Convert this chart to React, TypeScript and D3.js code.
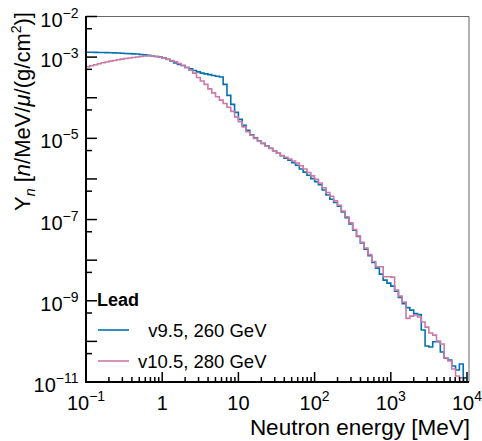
import React from "react";
import * as d3 from "d3";

// Histogram binning: 100 log-uniform bins between 0.1 MeV and 10^4 MeV
const X_MIN = 0.1;
const X_MAX = 1e4;
const N_BINS = 100;

// v9.5, 260 GeV  (n/MeV/mu/(g/cm^2)) per bin
const V95_VALUES = [
  1.32e-3, 1.32e-3, 1.31e-3, 1.30e-3, 1.30e-3, 1.29e-3, 1.28e-3, 1.27e-3, 1.26e-3, 1.245e-3,
  1.23e-3, 1.216e-3, 1.20e-3, 1.19e-3, 1.164e-3, 1.138e-3, 1.106e-3, 1.069e-3, 1.038e-3, 1.01e-3,
  9.55e-4, 8.87e-4, 8.05e-4, 7.19e-4, 6.61e-4, 6.24e-4, 5.57e-4, 5.12e-4, 4.70e-4, 4.32e-4,
  4.04e-4, 3.86e-4, 3.71e-4, 3.54e-4, 3.39e-4, 3.25e-4, 2.13e-4, 1.14e-4, 6.86e-5, 4.36e-5,
  2.93e-5, 2.09e-5, 1.57e-5, 1.22e-5, 1.03e-5, 8.69e-6, 7.54e-6, 6.55e-6, 5.68e-6, 4.93e-6,
  4.28e-6, 3.72e-6, 3.22e-6, 2.88e-6, 2.50e-6, 2.17e-6, 1.76e-6, 1.47e-6, 1.23e-6, 1.02e-6,
  8.57e-7, 7.19e-7, 5.36e-7, 4.02e-7, 3.16e-7, 2.62e-7, 2.13e-7, 1.53e-7, 1.11e-7, 7.82e-8,
  5.47e-8, 3.83e-8, 2.64e-8, 1.85e-8, 1.29e-8, 8.73e-9, 6.37e-9, 4.53e-9, 3.23e-9, 2.72e-9,
  2.30e-9, 1.73e-9, 1.20e-9, 8.53e-10, 6.80e-10, 5.90e-10, 4.84e-10, 4.57e-10, 1.90e-10, 7.69e-11,
  7.26e-11, 9.82e-11, 9.82e-11, 5.47e-11, 3.83e-11, 3.48e-11, 2.48e-11, 1.98e-11, 2.77e-11, 1.26e-11,
];

// v10.5, 280 GeV
const V105_VALUES = [
  5.83e-4, 6.14e-4, 6.46e-4, 6.87e-4, 7.28e-4, 7.60e-4, 7.96e-4, 8.28e-4, 8.61e-4, 8.91e-4,
  9.22e-4, 9.48e-4, 9.75e-4, 1.004e-3, 1.038e-3, 1.062e-3, 1.08e-3, 1.074e-3, 1.038e-3, 9.93e-4,
  9.44e-4, 8.77e-4, 8.19e-4, 7.66e-4, 6.98e-4, 6.24e-4, 5.57e-4, 4.75e-4, 4.04e-4, 3.16e-4,
  2.59e-4, 2.13e-4, 1.65e-4, 1.32e-4, 1.06e-4, 8.71e-5, 7.18e-5, 5.85e-5, 4.61e-5, 3.38e-5,
  2.55e-5, 1.92e-5, 1.45e-5, 1.19e-5, 1.00e-5, 8.59e-6, 7.41e-6, 6.47e-6, 5.61e-6, 4.90e-6,
  4.28e-6, 3.78e-6, 3.41e-6, 3.10e-6, 2.77e-6, 2.47e-6, 2.12e-6, 1.75e-6, 1.44e-6, 1.19e-6,
  9.82e-7, 7.93e-7, 6.07e-7, 4.62e-7, 3.75e-7, 2.90e-7, 2.25e-7, 1.63e-7, 1.17e-7, 8.28e-8,
  5.69e-8, 3.96e-8, 2.77e-8, 1.98e-8, 1.37e-8, 9.31e-9, 6.86e-9, 6.86e-9, 3.89e-9, 3.89e-9,
  3.82e-9, 1.83e-9, 1.30e-9, 9.29e-10, 3.69e-10, 4.20e-10, 4.45e-10, 3.97e-10, 2.99e-10, 2.25e-10,
  1.61e-10, 1.43e-10, 1.02e-10, 8.61e-11, 3.90e-11, 3.29e-11, 2.09e-11, 1.41e-11, 1.26e-11, 9.5e-12,
];

const SERIES_NAMES = ["v9.5, 260 GeV", "v10.5, 280 GeV"];
const SERIES_COLORS = ["#0072B2", "#CC79A7"];
const LEGEND_TITLE = "Lead";

const X_TICK_EXPONENTS = [-1, 0, 1, 2, 3, 4];
const Y_LABEL_EXPONENTS = [-2, -3, -5, -7, -9, -11];
const Y_DECADES = [-11, -10, -9, -8, -7, -6, -5, -4, -3, -2];

const W = 482;
const H = 441;
const L = 86;
const R = 467;
const FRAME_R = 469;
const T = 16.5;
const B = 382;

const FONT = "'Liberation Sans', Arial, Helvetica, sans-serif";

export default function App() {
  const x = d3.scaleLog().domain([X_MIN, X_MAX]).range([L, R]);
  const y = d3.scaleLog().domain([1e-11, 1e-2]).range([B, T]);

  const edges = d3.range(N_BINS + 1).map((i) =>
    Math.pow(10, Math.log10(X_MIN) + (i * (Math.log10(X_MAX) - Math.log10(X_MIN))) / N_BINS)
  );

  const stepPath = (vals: number[]) => {
    const pts: [number, number][] = [];
    vals.forEach((v, i) => {
      pts.push([edges[i], v]);
      pts.push([edges[i + 1], v]);
    });
    return d3
      .line<[number, number]>()
      .x((d) => x(d[0]))
      .y((d) => y(Math.max(d[1], 1e-13)))(pts) as string;
  };

  const xMinor: number[] = [];
  for (let e = -1; e < 4; e++) for (let m = 2; m <= 9; m++) xMinor.push(m * Math.pow(10, e));
  const yMinor = Y_DECADES.slice(0, -1).map((e) => 5 * Math.pow(10, e));

  const supLabel = (e: number) => (e === 0 ? "1" : e === 1 ? "10" : null);
  const expStr = (e: number) => (e < 0 ? "\u2212" + Math.abs(e) : String(e));

  return (
    <svg
      width={W}
      height={H}
      style={{ position: "absolute", left: 0, top: 0, background: "#fff" }}
      fontFamily={FONT}
    >
      <defs>
        <clipPath id="plotclip">
          <rect x={L} y={T} width={FRAME_R - L} height={B - T} />
        </clipPath>
      </defs>
      <rect x={0} y={0} width={W} height={H} fill="#fff" />

      {/* frame top/right */}
      <line x1={L} x2={FRAME_R} y1={T} y2={T} stroke="#666" strokeWidth={1} />
      <line x1={FRAME_R} x2={FRAME_R} y1={T} y2={B} stroke="#666" strokeWidth={1} />

      {/* histograms */}
      <g clipPath="url(#plotclip)" fill="none" strokeLinejoin="miter">
        <path d={stepPath(V95_VALUES)} stroke={SERIES_COLORS[0]} strokeWidth={1.6} />
        <path d={stepPath(V105_VALUES)} stroke={SERIES_COLORS[1]} strokeWidth={1.6} />
      </g>

      {/* y axis */}
      <line x1={L} x2={L} y1={T - 0.5} y2={B + 1} stroke="#000" strokeWidth={2} />
      {Y_DECADES.map((e) => (
        <line key={"yd" + e} x1={L} x2={L + 11} y1={y(Math.pow(10, e))} y2={y(Math.pow(10, e))} stroke="#000" strokeWidth={1.5} />
      ))}
      {yMinor.map((v, i) => (
        <line key={"ym" + i} x1={L} x2={L + 6} y1={y(v)} y2={y(v)} stroke="#000" strokeWidth={1.5} />
      ))}
      {Y_LABEL_EXPONENTS.map((e) => (
        <text key={"yl" + e} x={78.5} y={y(Math.pow(10, e)) + 10} textAnchor="end" fontSize={20} fill="#000">
          <tspan>10</tspan>
          <tspan dy={-9} fontSize={14}>{expStr(e)}</tspan>
        </text>
      ))}

      {/* x axis */}
      <line x1={L - 1} x2={FRAME_R} y1={B} y2={B} stroke="#000" strokeWidth={2} />
      {X_TICK_EXPONENTS.map((e) => (
        <line key={"xd" + e} x1={x(Math.pow(10, e))} x2={x(Math.pow(10, e))} y1={B} y2={B - 10} stroke="#000" strokeWidth={1.5} />
      ))}
      {xMinor.map((v, i) => (
        <line key={"xm" + i} x1={x(v)} x2={x(v)} y1={B} y2={B - 5} stroke="#000" strokeWidth={1.5} />
      ))}
      {X_TICK_EXPONENTS.map((e) => {
        const s = supLabel(e);
        return (
          <text key={"xl" + e} x={x(Math.pow(10, e))} y={410} textAnchor="middle" fontSize={20} fill="#000">
            {s !== null ? (
              s
            ) : (
              <>
                <tspan>10</tspan>
                <tspan dy={-9} fontSize={14}>{expStr(e)}</tspan>
              </>
            )}
          </text>
        );
      })}

      {/* axis titles */}
      <text x={FRAME_R + 1} y={435} textAnchor="end" fontSize={22.5} fill="#000">
        Neutron energy [MeV]
      </text>
      <text transform="translate(30,12) rotate(-90)" textAnchor="end" fontSize={22} fill="#000">
        <tspan>Y</tspan>
        <tspan dy={5} fontSize={14} fontStyle="italic">n</tspan>
        <tspan dy={-5}> [</tspan>
        <tspan fontStyle="italic">n</tspan>
        <tspan>/MeV/</tspan>
        <tspan fontStyle="italic">{"\u03bc"}</tspan>
        <tspan>/(g/cm</tspan>
        <tspan dy={-9} fontSize={14}>2</tspan>
        <tspan dy={9}>)]</tspan>
      </text>

      {/* legend */}
      <text x={97} y={306} fontSize={18} fontWeight="bold" fill="#000">
        {LEGEND_TITLE}
      </text>
      {SERIES_NAMES.map((name, i) => (
        <g key={name}>
          <line x1={98} x2={129} y1={330 + i * 31} y2={330 + i * 31} stroke={SERIES_COLORS[i]} strokeWidth={1.6} />
          <text x={266.5} y={337 + i * 30.5} textAnchor="end" fontSize={18.5} fill="#000">
            {name}
          </text>
        </g>
      ))}
    </svg>
  );
}
